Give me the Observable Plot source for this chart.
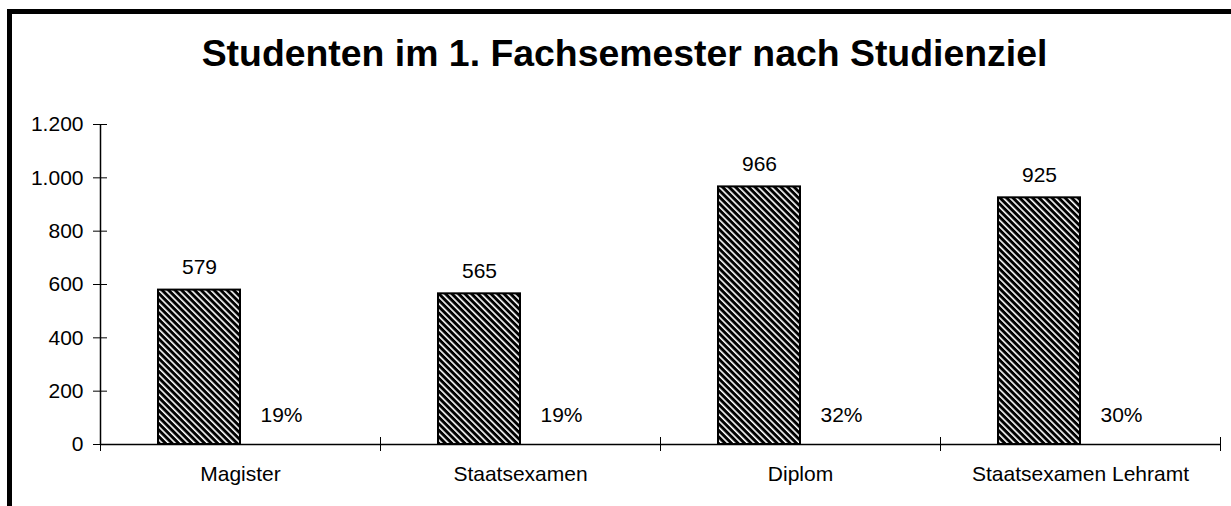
<!DOCTYPE html>
<html>
<head>
<meta charset="utf-8">
<script src="https://cdn.jsdelivr.net/npm/d3@7"></script>
<script src="https://cdn.jsdelivr.net/npm/@observablehq/plot@0.6"></script>
<style>
  html, body { margin: 0; padding: 0; background: #fff; overflow: hidden; width: 1231px; height: 506px; }
  #wrap { position: relative; width: 1231px; height: 506px; font-family: "Liberation Sans", Arial, sans-serif; }
  #frame { position: absolute; left: 7px; top: 9px; width: 1300px; height: 600px; border: 5px solid #000; box-sizing: border-box; pointer-events: none; z-index: 2; }
  #title { height: 100px; position: relative; }
  #title span { position: absolute; left: 0; width: 1249px; top: 35px; text-align: center; font-weight: bold; font-size: 37.4px; line-height: 37px; color: #000; white-space: nowrap; }
  svg { display: block; }
</style>
</head>
<body>
<div id="wrap">
  <div id="frame"></div>
  <div id="title"><span>Studenten im 1. Fachsemester nach Studienziel</span></div>
  <div id="chart"></div>
</div>
<script>
const categories = ["Magister", "Staatsexamen", "Diplom", "Staatsexamen Lehramt"];
const counts = [579, 565, 966, 925];
const percents = ["19%", "19%", "32%", "30%"];
const yTicks = [0, 200, 400, 600, 800, 1000, 1200];

const data = categories.map((c, i) => ({category: c, count: counts[i], pct: percents[i]}));
const deFormat = d3.formatLocale({decimal: ",", thousands: ".", grouping: [3], currency: ["", " €"]}).format(",d");

const font = "'Liberation Sans', Arial, sans-serif";
const fs = 21;
const chart = Plot.plot({
  width: 1231,
  height: 406,
  marginTop: 24,
  marginBottom: 62,
  marginLeft: 100,
  marginRight: 11,
  style: {fontFamily: font, fontSize: fs + "px", color: "#000", background: "transparent"},
  x: {type: "band", domain: categories, padding: 0, label: null},
  y: {domain: [0, 1200], label: null},
  marks: [
    Plot.barY(data, {x: "category", y: "count", fill: "url(#hatch)", stroke: "#000", strokeWidth: 2, insetLeft: 58, insetRight: 140}),
    Plot.ruleY([0], {stroke: "#000", strokeWidth: 1.5}),
    Plot.ruleX([categories[0]], {dx: -140, y1: 0, y2: 1200, stroke: "#000", strokeWidth: 1.5}),
    Plot.axisY({ticks: yTicks, tickSize: 14, dx: 7, text: null, stroke: "#000"}),
    Plot.axisY({ticks: yTicks, tickSize: 0, tickPadding: 17, tickFormat: deFormat, fontSize: fs, fill: "#000"}),
    Plot.axisX({ticks: categories, tickSize: 14, dy: -7, dx: -140, text: null, stroke: "#000"}),
    Plot.axisX({ticks: [categories[categories.length - 1]], tickSize: 14, dy: -7, dx: 140, text: null, stroke: "#000"}),
    Plot.axisX({ticks: categories, tickSize: 0, tickPadding: 22, fontSize: fs, fill: "#000"}),
    Plot.text(data, {x: "category", y: "count", text: d => String(d.count), dx: -41, dy: -23, fontSize: fs, fill: "#000"}),
    Plot.text(data, {x: "category", frameAnchor: "bottom", text: "pct", dx: 41, dy: -23, fontSize: fs, fill: "#000"})
  ]
});

// hatch pattern definition
const ns = "http://www.w3.org/2000/svg";
const defs = document.createElementNS(ns, "defs");
const pat = document.createElementNS(ns, "pattern");
const P = 4.6;
pat.setAttribute("id", "hatch");
pat.setAttribute("patternUnits", "userSpaceOnUse");
pat.setAttribute("width", P);
pat.setAttribute("height", P);
pat.setAttribute("patternTransform", "rotate(45)");
const bg = document.createElementNS(ns, "rect");
bg.setAttribute("width", P); bg.setAttribute("height", P); bg.setAttribute("fill", "#fff");
const stripe = document.createElementNS(ns, "rect");
stripe.setAttribute("width", P); stripe.setAttribute("height", 3.0); stripe.setAttribute("fill", "#000");
pat.appendChild(bg); pat.appendChild(stripe);
defs.appendChild(pat);
chart.insertBefore(defs, chart.firstChild);

document.getElementById("chart").appendChild(chart);
</script>
</body>
</html>
